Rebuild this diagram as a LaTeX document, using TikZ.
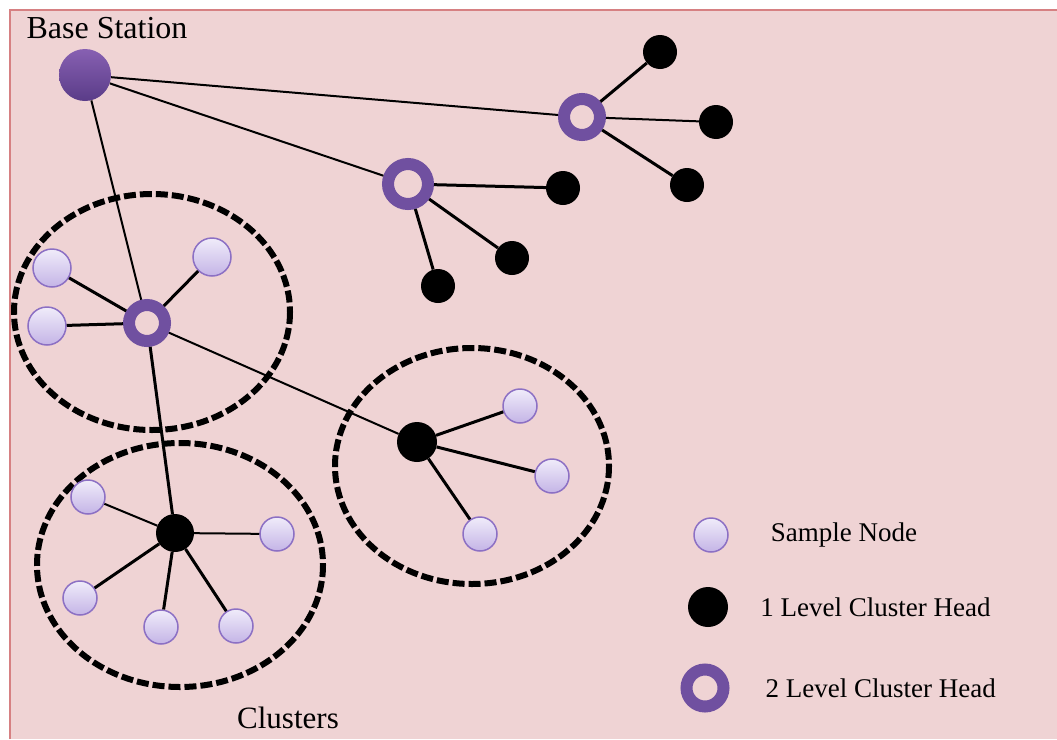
\documentclass[tikz,border=0pt]{standalone}
\usepackage{fontspec}
\setmainfont{Liberation Serif}
\usetikzlibrary{positioning}
\definecolor{bgpink}{RGB}{239,211,212}
\definecolor{framepink}{RGB}{214,128,130}
\definecolor{nodetop}{RGB}{240,236,250}
\definecolor{nodebot}{RGB}{196,180,230}
\definecolor{nodeline}{RGB}{140,112,196}
\definecolor{purpletop}{RGB}{135,96,178}
\definecolor{purplebot}{RGB}{90,60,136}
\definecolor{ringpurple}{RGB}{112,80,160}
\tikzset{
  samplenode/.style={circle,draw=nodeline,line width=1.5pt,top color=nodetop,bottom color=nodebot,minimum size=34pt,inner sep=0pt},
  headone/.style={circle,fill=black,minimum size=34pt,inner sep=0pt},
  headtwo/.style={circle,draw=ringpurple,line width=12pt,minimum size=36pt,inner sep=0pt},
  basestation/.style={circle,top color=purpletop,bottom color=purplebot,minimum size=52pt,inner sep=0pt},
  link/.style={draw,line width=3pt},
  bslink/.style={draw,line width=2pt},
  cluster/.style={draw,line width=6pt,dash pattern=on 12pt off 4pt},
  legendtext/.style={inner sep=0pt,font=\fontsize{27}{30}\selectfont},
}

\begin{document}
\begin{tikzpicture}[x=1pt,y=-1pt]

\useasboundingbox (0,0) rectangle (1057,739);
\fill[bgpink] (10,10) rectangle (1057,739);
\draw[framepink,line width=2pt] (10,739) -- (10,10) -- (1057,10);

% clusters
\draw[cluster] (152,312) ellipse [x radius=138,y radius=118];
\draw[cluster] (180,565) ellipse [x radius=143,y radius=122];
\draw[cluster] (472,466) ellipse [x radius=137,y radius=118];

\node[basestation] (bs) at (85,75) {};
\node[font=\fontsize{32}{36}\selectfont] (bstext) at (107,28) {Base Station};

% 2 level heads and their children
\node[headtwo] (ha) at (582,117) {};
\node[headone] (a1) at (660,52) {};
\node[headone] (a2) at (716,122) {};
\node[headone] (a3) at (687,185) {};

\node[headtwo,minimum size=40pt] (hb) at (408,184) {};
\node[headone] (b1) at (563,188) {};
\node[headone] (b2) at (512,258) {};
\node[headone] (b3) at (438,286) {};

\node[headtwo] (hc) at (147,323) {};
\node[samplenode,minimum size=38pt] (c1) at (52,268) {};
\node[samplenode,minimum size=38pt] (c2) at (212,257) {};
\node[samplenode,minimum size=38pt] (c3) at (47,326) {};

% 1 level heads and their children
\node[headone,minimum size=40pt] (hd) at (417,442) {};
\node[samplenode] (d1) at (520,406) {};
\node[samplenode] (d2) at (552,476) {};
\node[samplenode] (d3) at (480,534) {};

\node[headone,minimum size=38pt] (he) at (175,533) {};
\node[samplenode] (e1) at (88,497) {};
\node[samplenode] (e2) at (277,534) {};
\node[samplenode] (e3) at (80,598) {};
\node[samplenode] (e4) at (161,627) {};
\node[samplenode] (e5) at (236,626) {};

\path[bslink]
(bs) edge (ha)
(bs) edge (hb)
(bs) edge (hc);

\path[link]
(ha) edge (a1)
(ha) edge[line width=2pt] (a2)
(ha) edge (a3)
(hb) edge (b1)
(hb) edge (b2)
(hb) edge (b3)
(hc) edge (c1)
(hc) edge (c2)
(hc) edge (c3)
(hc) edge[line width=2pt] (hd)
(hc) edge (he)
(hd) edge (d1)
(hd) edge (d2)
(hd) edge (d3)
(he) edge[line width=2pt] (e1)
(he) edge[line width=2pt] (e2)
(he) edge (e3)
(he) edge (e4)
(he) edge (e5);

\node[font=\fontsize{31}{34}\selectfont] (clusters) at (288,718) {Clusters};

% legend
\node[samplenode] (lgsample) at (711,535) {};
\node[headone,minimum size=40pt] (lgone) at (708,607) {};
\node[headtwo,minimum size=37pt] (lgtwo) at (705,688) {};
\node[legendtext,right=42pt of lgsample] (lgsampletext) {Sample Node};
\node[legendtext,right=32pt of lgone] (lgonetext) {1 Level Cluster Head};
\node[legendtext,right=36pt of lgtwo] (lgtwotext) {2 Level Cluster Head};

\end{tikzpicture}
\end{document}
